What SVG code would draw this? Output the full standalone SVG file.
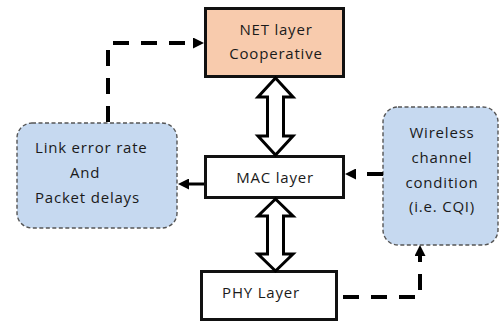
<svg xmlns="http://www.w3.org/2000/svg" width="499" height="325" viewBox="0 0 499 325">
<style>
.box{stroke:#111;stroke-width:3;}
.soft{fill:#c6d9f0;stroke:#555;stroke-width:1.4;stroke-dasharray:4 2.5;}
.t{font-family:"Open Sans","Liberation Sans",sans-serif;font-size:15px;fill:#1a1a1a;letter-spacing:0.8px;}
.c{text-anchor:middle;}
.dash{fill:none;stroke:#000;stroke-width:4;stroke-dasharray:16 12;}
.solid{fill:none;stroke:#000;stroke-width:3;}
.dbl{fill:#fff;stroke:#000;stroke-width:3;stroke-linejoin:miter;}
</style>
<defs>
<marker id="ah" markerUnits="userSpaceOnUse" markerWidth="11" markerHeight="11" refX="0" refY="5.5" orient="auto">
<path d="M0,0 L11,5.5 L0,11 Z" fill="#000"/>
</marker>
</defs>
<g id="net">
<rect class="box" x="205.5" y="8.5" width="138" height="68" fill="#f8cbad"/>
<text class="t c" x="276" y="35">NET layer</text>
<text class="t c" x="276" y="59">Cooperative</text>
</g>
<g id="mac">
<rect class="box" x="205.5" y="156.5" width="138" height="41" fill="#fff"/>
<text class="t c" x="275" y="183">MAC layer</text>
</g>
<g id="phy">
<rect class="box" x="201.5" y="271.5" width="135" height="48" fill="#fff"/>
<text class="t c" x="261" y="298">PHY Layer</text>
</g>
<g id="link">
<rect class="soft" x="17" y="123" width="160" height="105" rx="15"/>
<text class="t" x="35" y="153">Link error rate</text>
<text class="t" x="70" y="178">And</text>
<text class="t" x="35" y="203">Packet delays</text>
</g>
<g id="wireless">
<rect class="soft" x="383" y="107" width="115" height="138" rx="15"/>
<text class="t c" x="442" y="138">Wireless</text>
<text class="t c" x="442" y="163">channel</text>
<text class="t c" x="442" y="188">condition</text>
<text class="t c" x="442" y="212">(i.e. CQI)</text>
</g>
<g id="connectors">
<path class="dbl" d="M275.5,78 L293,97 L283.5,97 L283.5,136 L293,136 L275.5,155 L258,136 L267.5,136 L267.5,97 L258,97 Z"/>
<path class="dbl" d="M275.5,199 L293,216 L283.5,216 L283.5,254 L293,254 L275.5,271 L258,254 L267.5,254 L267.5,216 L258,216 Z"/>
<path class="dash" d="M108,122 V43 H193" marker-end="url(#ah)"/>
<path class="solid" d="M204,184 H189" marker-end="url(#ah)"/>
<path class="dash" d="M383,174 H356" marker-end="url(#ah)"/>
<path class="dash" stroke-dashoffset="23" d="M338,297 H420 V256" marker-end="url(#ah)"/>
</g>
</svg>
